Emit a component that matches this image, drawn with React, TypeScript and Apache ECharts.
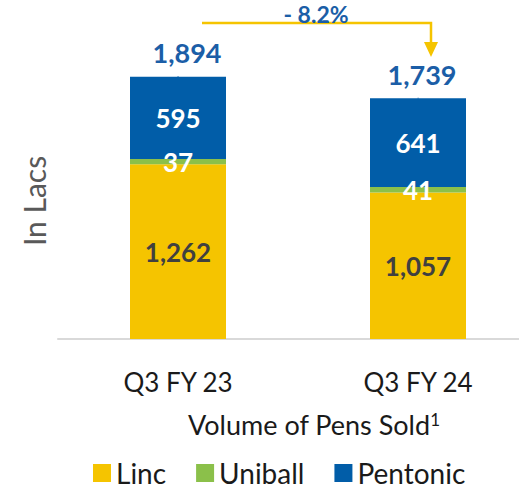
import React, { useEffect, useRef } from "react";
import * as echarts from "echarts";

const categories = ["Q3 FY 23", "Q3 FY 24"];
const lincValues = [1262, 1057];
const uniballValues = [37, 41];
const pentonicValues = [595, 641];
const totalValues = [1894, 1739];
const totalOffsetsX = [9, 4];
const changeLabel = "- 8.2%";
const xTitle = "Volume of Pens Sold";
const yTitle = "In Lacs";

const FONT = "Lato";
const YELLOW = "#F5C400";
const GREEN = "#8BC04A";
const BLUE = "#015DA8";
const TOTAL_BLUE = "#1B5EA7";
const TEXT = "#1a1a1a";

export default function App() {
  const ref = useRef<HTMLDivElement>(null);
  useEffect(() => {
    document.body.style.margin = "0";
    if (!ref.current) return;
    const chart = echarts.init(ref.current, null, { renderer: "svg" });
    const fmt = (p: any) => Number(p.value).toLocaleString("en-US");
    const insideLabel = (color: string) => ({
      show: true,
      position: "inside" as const,
      color,
      fontFamily: FONT,
      fontWeight: "bold" as const,
      fontSize: 26,
      formatter: fmt,
    });
    chart.setOption({
      animation: false,
      textStyle: { fontFamily: FONT },
      grid: { left: 58, top: 62, width: 480, bottom: 150, outerBoundsMode: "none", containLabel: false },
      legend: {
        data: ["Linc", "Uniball", "Pentonic"],
        top: 459,
        left: 93,
        icon: "rect",
        itemWidth: 18,
        itemHeight: 18,
        itemGap: 30,
        padding: 0,
        textStyle: { fontFamily: FONT, fontSize: 28, lineHeight: 28, color: TEXT },
      },
      xAxis: {
        type: "category",
        data: categories,
        axisLine: { lineStyle: { color: "#D9D9D9", width: 2 } },
        axisTick: { show: false },
        axisLabel: { fontFamily: FONT, fontSize: 26, color: TEXT, margin: 30 },
      },
      yAxis: { type: "value", min: 0, max: 2000, show: false },
      series: [
        {
          name: "Linc",
          type: "bar",
          stack: "t",
          barWidth: 96,
          data: lincValues,
          itemStyle: { color: YELLOW },
          label: insideLabel("#404040"),
        },
        {
          name: "Uniball",
          type: "bar",
          stack: "t",
          data: uniballValues,
          itemStyle: { color: GREEN },
          label: insideLabel("#ffffff"),
        },
        {
          name: "Pentonic",
          type: "bar",
          stack: "t",
          data: pentonicValues,
          itemStyle: { color: BLUE },
          label: insideLabel("#ffffff"),
        },
        {
          name: "Total",
          type: "scatter",
          data: totalValues.map((v, i) => ({
            value: v,
            label: { offset: [totalOffsetsX[i], 0] },
          })),
          symbolSize: 1,
          itemStyle: { color: BLUE, opacity: 1 },
          silent: true,
          label: {
            show: true,
            position: "top",
            distance: 10,
            color: TOTAL_BLUE,
            opacity: 1,
            fontFamily: FONT,
            fontWeight: "bold",
            fontSize: 27,
            formatter: fmt,
          },
        },
      ],
      graphic: [
        {
          type: "text",
          x: 34,
          y: 201,
          rotation: Math.PI / 2,
          style: {
            text: yTitle,
            fill: "#595959",
            fontFamily: FONT,
            fontSize: 30,
            align: "center",
            verticalAlign: "middle",
          },
        },
        {
          type: "text",
          x: 314,
          y: 424,
          style: {
            text: xTitle + "{sup|1}",
            fill: TEXT,
            fontFamily: FONT,
            fontSize: 27,
            align: "center",
            verticalAlign: "middle",
            rich: {
              sup: { fontSize: 17, fill: TEXT, fontFamily: FONT, verticalAlign: "top" },
            },
          },
        },
        {
          type: "polyline",
          shape: { points: [[202, 23], [431, 23], [431, 44]] },
          style: { stroke: YELLOW, lineWidth: 2.5, fill: "none" },
        },
        {
          type: "polygon",
          shape: { points: [[424, 42], [438, 42], [431, 57]] },
          style: { fill: YELLOW },
        },
        {
          type: "text",
          x: 316,
          y: 14,
          style: {
            text: changeLabel,
            fill: TOTAL_BLUE,
            fontFamily: FONT,
            fontWeight: "bold",
            fontSize: 23,
            align: "center",
            verticalAlign: "middle",
          },
        },
      ],
    });
    return () => chart.dispose();
  }, []);
  return <div ref={ref} style={{ width: 519, height: 489 }} />;
}
